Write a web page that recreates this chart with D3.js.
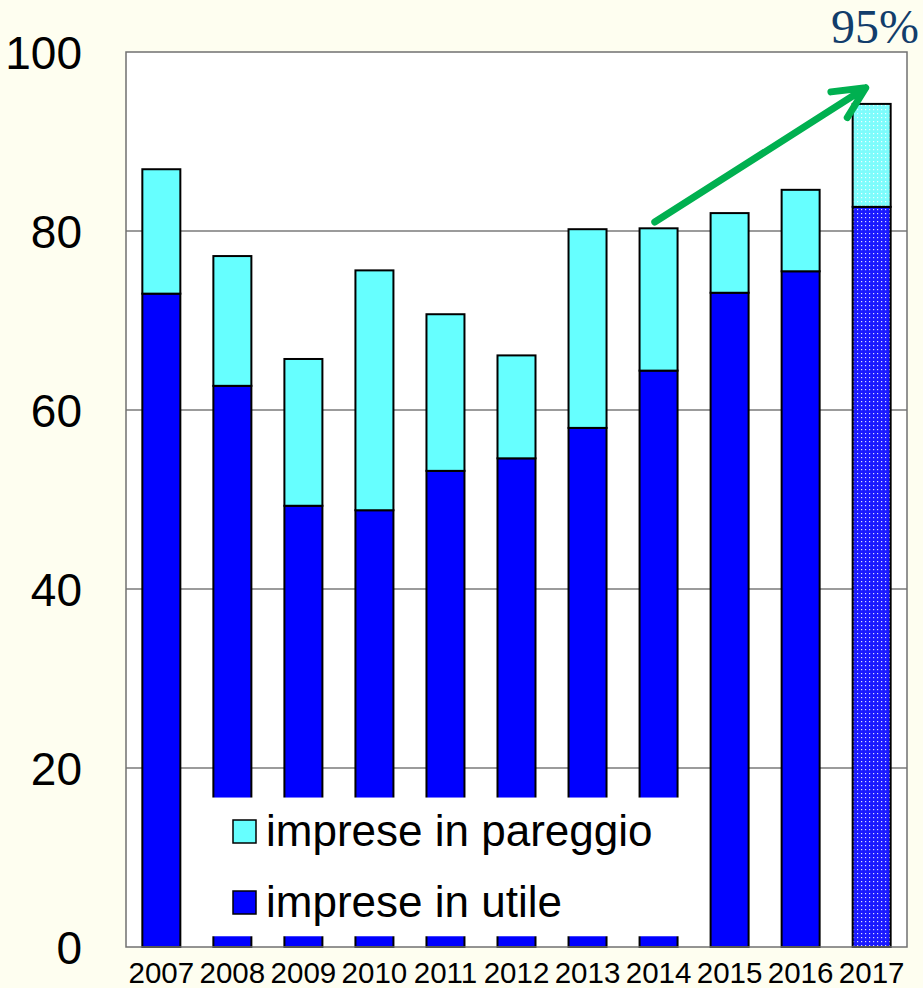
<!DOCTYPE html>
<html>
<head>
<meta charset="utf-8">
<script src="https://cdn.jsdelivr.net/npm/d3@7"></script>
<style>
  body { margin: 0; background: #fefef0; }
  svg { display: block; }
</style>
</head>
<body>
<div id="chart"></div>
<script>
const years = ["2007","2008","2009","2010","2011","2012","2013","2014","2015","2016","2017"];
const utile = [73.0, 62.7, 49.3, 48.8, 53.2, 54.6, 58.0, 64.4, 73.1, 75.5, 82.7];
const pareggio = [13.9, 14.5, 16.4, 26.8, 17.5, 11.5, 22.2, 15.9, 8.9, 9.1, 11.5];
const yTicks = [0, 20, 40, 60, 80, 100];
const legendLabels = ["imprese in pareggio", "imprese in utile"];

const width = 923, height = 988;
const margin = {top: 52, right: 16, bottom: 41, left: 126};

const svg = d3.select("#chart").append("svg")
    .attr("width", width)
    .attr("height", height);

// dotted fill used for the last (estimated) year
const defs = svg.append("defs");
function dots(id, color) {
  const p = defs.append("pattern")
      .attr("id", id)
      .attr("patternUnits", "userSpaceOnUse")
      .attr("width", 4).attr("height", 4);
  p.append("rect").attr("width", 4).attr("height", 4).attr("fill", color);
  p.append("rect").attr("x", 1).attr("y", 1).attr("width", 1.2).attr("height", 1.2).attr("fill", "#fff").attr("opacity", 0.85);
}
dots("dotBlue", "#1a1aff");
dots("dotCyan", "#7dfcfc");

const x = d3.scaleBand()
    .domain(years)
    .range([margin.left, width - margin.right])
    .paddingInner(0.465)
    .paddingOuter(0.23);

const y = d3.scaleLinear()
    .domain([0, 100])
    .range([height - margin.bottom, margin.top]);

// plot background
svg.append("rect")
    .attr("x", margin.left).attr("y", margin.top)
    .attr("width", width - margin.right - margin.left)
    .attr("height", y(0) - margin.top)
    .attr("fill", "#fff");

// gridlines
svg.append("g")
  .selectAll("line")
  .data(yTicks.filter(d => d > 0 && d < 100))
  .join("line")
    .attr("x1", margin.left).attr("x2", width - margin.right)
    .attr("y1", d => y(d)).attr("y2", d => y(d))
    .attr("stroke", "#7a7a7a").attr("stroke-width", 1.5);

const stack = years.map((yr, i) => ({yr, u: utile[i], p: pareggio[i], last: i === years.length - 1}));

// bars: utile at bottom, pareggio on top
const bars = svg.append("g").attr("stroke", "#000").attr("stroke-width", 2);
bars.selectAll(".u")
  .data(stack)
  .join("rect")
    .attr("class", "u")
    .attr("x", d => x(d.yr))
    .attr("width", x.bandwidth())
    .attr("y", d => y(d.u))
    .attr("height", d => y(0) - y(d.u))
    .attr("fill", d => d.last ? "url(#dotBlue)" : "#0000ff");
bars.selectAll(".p")
  .data(stack)
  .join("rect")
    .attr("class", "p")
    .attr("x", d => x(d.yr))
    .attr("width", x.bandwidth())
    .attr("y", d => y(d.u + d.p))
    .attr("height", d => y(d.u) - y(d.u + d.p))
    .attr("fill", d => d.last ? "url(#dotCyan)" : "#66ffff");

// plot frame
svg.append("rect")
    .attr("x", margin.left).attr("y", margin.top)
    .attr("width", width - margin.right - margin.left)
    .attr("height", y(0) - margin.top)
    .attr("fill", "none")
    .attr("stroke", "#707070").attr("stroke-width", 1.5);

// legend sits on a white box that hides the bars behind it
const lg = svg.append("g");
lg.append("rect")
    .attr("x", x("2008") - 15).attr("y", y(16.7))
    .attr("width", x("2014") + x.bandwidth() + 12 - (x("2008") - 15))
    .attr("height", y(1.2) - y(16.7))
    .attr("fill", "#fff");
const legendColors = ["#66ffff", "#0000ff"];
legendLabels.forEach((t, i) => {
  const ly = 832 + i * 71;
  lg.append("rect")
      .attr("x", 233).attr("y", ly - 12)
      .attr("width", 23).attr("height", 23)
      .attr("fill", legendColors[i])
      .attr("stroke", "#000").attr("stroke-width", 1.5);
  lg.append("text")
      .attr("x", 266).attr("y", ly + 14)
      .attr("font-family", "Liberation Sans, Arial, sans-serif")
      .attr("font-size", 44)
      .attr("fill", "#000")
      .text(t);
});

// y axis labels
svg.append("g")
  .selectAll("text")
  .data(yTicks)
  .join("text")
    .attr("x", 82)
    .attr("y", d => y(d))
    .attr("dy", "0.36em")
    .attr("text-anchor", "end")
    .attr("font-family", "Liberation Sans, Arial, sans-serif")
    .attr("font-size", 46)
    .text(d => d);

// x axis labels
svg.append("g")
  .selectAll("text")
  .data(years)
  .join("text")
    .attr("x", d => x(d) + x.bandwidth() / 2)
    .attr("y", 983)
    .attr("text-anchor", "middle")
    .attr("font-family", "Liberation Sans, Arial, sans-serif")
    .attr("font-size", 29.5)
    .text(d => d);

// green trend arrow
const ax1 = x("2014") + x.bandwidth() * 0.4, ay1 = y(81.0);
const ax2 = x("2017") + 13, ay2 = y(96.0);
const ang = Math.atan2(ay2 - ay1, ax2 - ax1);
const head = 35, spread = 0.45;
svg.append("path")
    .attr("d", `M${ax1},${ay1}L${ax2},${ay2}`
      + `M${ax2 - head * Math.cos(ang - spread)},${ay2 - head * Math.sin(ang - spread)}L${ax2},${ay2}`
      + `L${ax2 - head * Math.cos(ang + spread)},${ay2 - head * Math.sin(ang + spread)}`)
    .attr("fill", "none")
    .attr("stroke", "#00b050")
    .attr("stroke-width", 7)
    .attr("stroke-linecap", "round")
    .attr("stroke-linejoin", "round");

svg.append("text")
    .attr("x", 919).attr("y", 43)
    .attr("text-anchor", "end")
    .attr("font-family", "Liberation Serif, Times New Roman, serif")
    .attr("font-size", 48)
    .attr("fill", "#123d6b")
    .text("95%");
</script>
</body>
</html>
